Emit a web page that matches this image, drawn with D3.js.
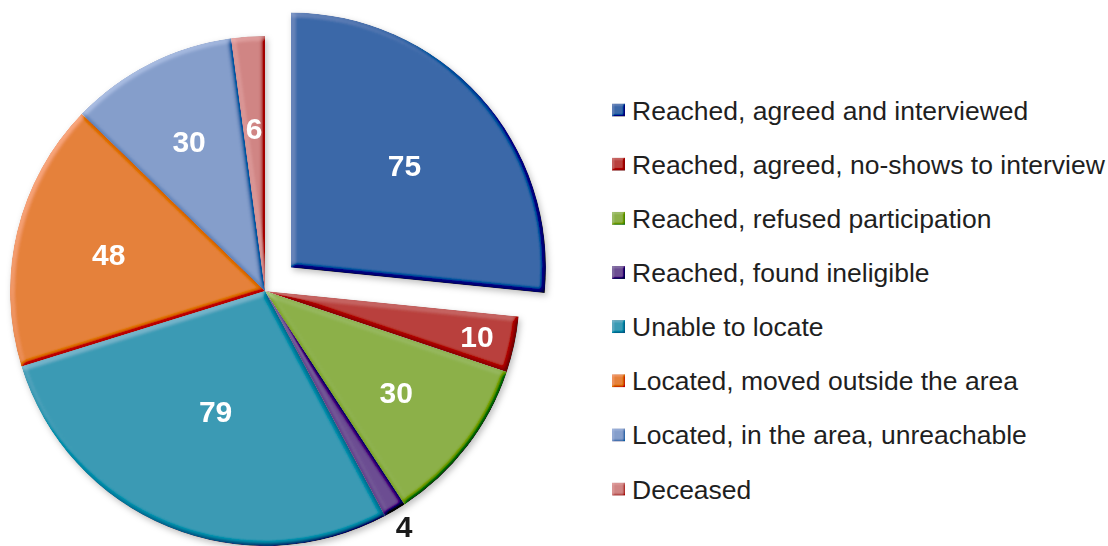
<!DOCTYPE html>
<html>
<head>
<meta charset="utf-8">
<script src="https://cdn.jsdelivr.net/npm/d3@7"></script>
<style>
  body { margin: 0; background: #fff; }
  svg { display: block; }
</style>
</head>
<body>
<svg id="chart"></svg>
<script>
// Data
const categories = [
    'Reached, agreed and interviewed',
    'Reached, agreed, no-shows to interview',
    'Reached, refused participation',
    'Reached, found ineligible',
    'Unable to locate',
    'Located, moved outside the area',
    'Located, in the area, unreachable',
    'Deceased'
];
const counts = [75, 10, 30, 4, 79, 48, 30, 6];
const sliceColors = ['#3a68a8', '#b9413d', '#8cb04a', '#6c4e92', '#3a9ab4', '#e5813a', '#859ecb', '#d08584'];

// layout
const width = 1108, height = 546;
const cx = 265, cy = 291, radius = 255;
const explodeIndex = 0, explodeDist = 35;
// label distance as a fraction of radius (Excel moved a few of them)
const labelFrac = [0.6, 0.85, 0.65, 1.07, 0.51, 0.63, 0.66, 0.64];

const svg = d3.select('#chart')
    .attr('width', width)
    .attr('height', height);

const defs = svg.append('defs');

// bevel look like the Office 2007 pie style
function addBevel(id, blur, scale, strength) {
    const f = defs.append('filter')
        .attr('id', id)
        .attr('x', '-5%').attr('y', '-5%')
        .attr('width', '110%').attr('height', '110%');
    f.append('feGaussianBlur')
        .attr('in', 'SourceAlpha')
        .attr('stdDeviation', blur)
        .attr('result', 'blur');
    f.append('feDiffuseLighting')
        .attr('in', 'blur')
        .attr('surfaceScale', scale)
        .attr('diffuseConstant', 1)
        .attr('lighting-color', '#ffffff')
        .attr('result', 'light')
        .append('feDistantLight')
        .attr('azimuth', 225)
        .attr('elevation', 45);
    // src + strength * (light - sin(45deg))
    f.append('feComposite')
        .attr('in', 'SourceGraphic')
        .attr('in2', 'light')
        .attr('operator', 'arithmetic')
        .attr('k1', 0).attr('k2', 1).attr('k3', strength).attr('k4', -0.7071 * strength)
        .attr('result', 'lit');
    f.append('feComposite')
        .attr('in', 'lit')
        .attr('in2', 'SourceAlpha')
        .attr('operator', 'in');
}
addBevel('bevel', 2.5, 3, 0.55);
addBevel('bevelSmall', 1, 1.5, 0.4);

const shadow = defs.append('filter')
    .attr('id', 'shadow')
    .attr('x', '-10%').attr('y', '-10%')
    .attr('width', '120%').attr('height', '120%');
shadow.append('feDropShadow')
    .attr('dx', 2).attr('dy', 3)
    .attr('stdDeviation', 3)
    .attr('flood-color', '#000')
    .attr('flood-opacity', 0.25);

const pie = d3.pie()
    .sort(null)
    .value(d => d);

const arcs = pie(counts);

const arc = d3.arc()
    .innerRadius(0)
    .outerRadius(radius);

const offset = (d, i) => {
    if (i !== explodeIndex) return [0, 0];
    const a = (d.startAngle + d.endAngle) / 2;
    return [Math.sin(a) * explodeDist, -Math.cos(a) * explodeDist];
};

const chart = svg.append('g')
    .attr('transform', `translate(${cx},${cy})`)
    .attr('filter', 'url(#shadow)');

chart.selectAll('.slice')
    .data(arcs)
    .join('path')
    .attr('class', 'slice')
    .attr('d', arc)
    .attr('transform', (d, i) => `translate(${offset(d, i)})`)
    .attr('fill', (d, i) => sliceColors[i])
    .attr('filter', 'url(#bevel)');

// value labels
svg.append('g')
    .attr('transform', `translate(${cx},${cy})`)
    .selectAll('text')
    .data(arcs)
    .join('text')
    .attr('x', (d, i) => {
        const a = (d.startAngle + d.endAngle) / 2;
        return offset(d, i)[0] + Math.sin(a) * radius * labelFrac[i];
    })
    .attr('y', (d, i) => {
        const a = (d.startAngle + d.endAngle) / 2;
        return offset(d, i)[1] - Math.cos(a) * radius * labelFrac[i];
    })
    .attr('dy', '0.36em')
    .attr('text-anchor', 'middle')
    .attr('font-family', 'Liberation Sans, Arial, sans-serif')
    .attr('font-weight', 'bold')
    .attr('font-size', '30px')
    .attr('fill', (d, i) => labelFrac[i] > 1 ? '#1a1a1a' : '#ffffff')
    .text(d => d.data);

// legend
const legendX = 612, legendY0 = 110, legendStep = 54.15;

const legend = svg.append('g')
    .selectAll('g')
    .data(categories)
    .join('g')
    .attr('transform', (d, i) => `translate(${legendX},${legendY0 + i * legendStep})`);

legend.append('rect')
    .attr('x', 0)
    .attr('y', -6.5)
    .attr('width', 13)
    .attr('height', 13)
    .attr('fill', (d, i) => sliceColors[i])
    .attr('filter', 'url(#bevelSmall)');

legend.append('text')
    .attr('x', 20)
    .attr('y', 0)
    .attr('dy', '0.36em')
    .attr('font-family', 'Liberation Sans, Arial, sans-serif')
    .attr('font-size', '26.5px')
    .attr('fill', '#1f1f1f')
    .text(d => d);
</script>
</body>
</html>
